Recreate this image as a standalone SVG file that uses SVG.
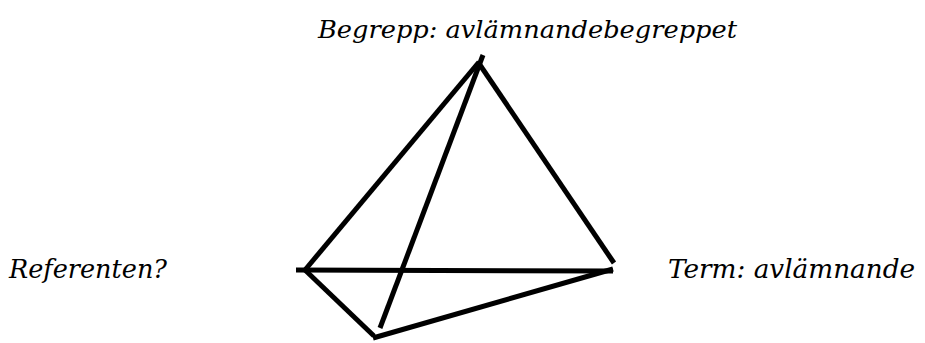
<svg xmlns="http://www.w3.org/2000/svg" width="925" height="343" viewBox="0 0 925 343">
<style>
.lbl{font-family:"DejaVu Serif","Liberation Serif",serif;font-style:italic;fill:#000}
.e{stroke:#000;stroke-width:5;fill:none;stroke-linecap:butt}
</style>
<rect width="925" height="343" fill="#fff"/>
<g id="connectors">
<line class="e" x1="296" y1="270" x2="613" y2="271"/>
<line class="e" x1="305" y1="270" x2="479" y2="62"/>
<line class="e" x1="483" y1="55" x2="380" y2="328"/>
<line class="e" x1="478" y1="62" x2="614" y2="263"/>
<line class="e" x1="305" y1="270" x2="374" y2="336"/>
<line class="e" x1="373" y1="338" x2="613" y2="269"/>
</g>
<g id="node-begrepp"><text class="lbl" x="318" y="38" font-size="25" textLength="419" lengthAdjust="spacingAndGlyphs">Begrepp: avlämnandebegreppet</text></g>
<g id="node-referenten"><text class="lbl" x="9" y="278" font-size="26" textLength="158" lengthAdjust="spacingAndGlyphs">Referenten?</text></g>
<g id="node-term"><text class="lbl" x="668" y="278" font-size="26" textLength="247" lengthAdjust="spacingAndGlyphs">Term: avlämnande</text></g>
</svg>
